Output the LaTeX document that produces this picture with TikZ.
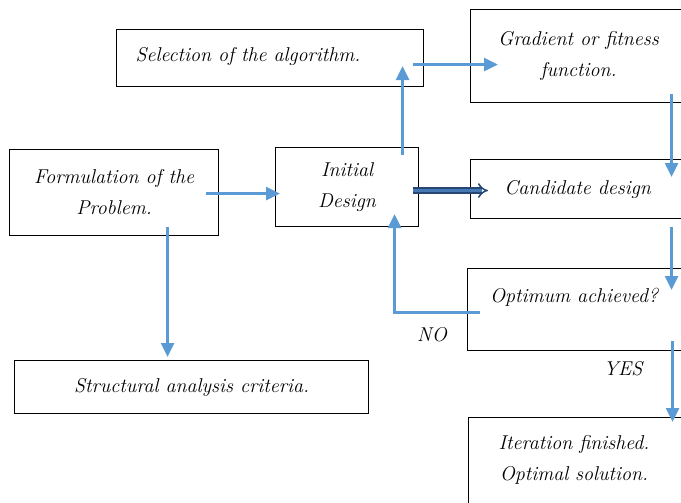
\documentclass[tikz,border=0pt]{standalone}
\usepackage{fontspec}
\usetikzlibrary{arrows.meta}
\definecolor{flowblue}{RGB}{91,155,213}
\definecolor{blockdark}{RGB}{38,70,115}
\definecolor{blockfill}{RGB}{70,120,180}
\begin{document}
\begin{tikzpicture}[
  x=1pt, y=-1pt,
  font=\fontsize{20}{31}\selectfont\itshape,
  box/.style={
    draw,
    line width=1.1pt,
    anchor=north west,
    align=center,
    inner sep=0pt
  },
  flow arrow/.style={
    draw=flowblue,
    line width=2.6pt,
    -{Triangle[length=14pt,width=13pt]}
  },
  block arrow/.style={
    draw=blockdark,
    double=blockfill,
    double distance=3.5pt,
    line width=1.5pt,
    -{Implies[scale=1.4]}
  },
]
\useasboundingbox (0,0) rectangle (681,503);
\clip (0,0) rectangle (681,503);

\node[box, minimum width=307pt, minimum height=57pt] (select) at (116,29) {};
\node (selecttext) at (248,57) {Selection of the algorithm.};
\node[box, minimum width=216pt, minimum height=93pt] (grad) at (470,9)
  {Gradient or fitness\\function.};
\node[box, minimum width=209pt, minimum height=86pt] (form) at (9,149)
  {Formulation of the\\Problem.};
\node[box, minimum width=143pt, minimum height=79pt] (init) at (275,147)
  {Initial\\Design};
\node[box, minimum width=214pt, minimum height=59pt] (cand) at (470,159)
  {Candidate design};
\node[box, minimum width=230pt, minimum height=82pt] (opt) at (467,268) {};
\node (opttext) at (574,297) {Optimum achieved?};
\node[box, minimum width=354pt, minimum height=53pt] (struct) at (14,360)
  {Structural analysis criteria.};
\node[box, minimum width=216pt, minimum height=110pt] (iter) at (468,417) {};
\node[align=center] (itertext) at (574,460) {Iteration finished.\\Optimal solution.};
\node (no) at (432,335) {NO};
\node (yes) at (623,369) {YES};

\draw[flow arrow] ([xshift=-13pt,yshift=-1pt]form.east)
  -- ([xshift=5pt,yshift=-6.5pt]init.west);
\draw[flow arrow] ([xshift=53.5pt,yshift=9pt]form.south)
  -- ([xshift=-24pt,yshift=3pt]struct.north);
\draw[flow arrow] ([xshift=55.5pt,yshift=-8pt]init.north)
  -- ([xshift=132.5pt,yshift=21pt]select.south);
\draw[flow arrow] ([xshift=-11pt,yshift=-6.5pt]select.east)
  -- ([xshift=28pt,yshift=-8.5pt]grad.west);
\draw[flow arrow] ([xshift=93pt,yshift=9pt]grad.south)
  -- ([xshift=94pt,yshift=-18pt]cand.north);
\draw[flow arrow] ([xshift=94pt,yshift=-8pt]cand.south)
  -- ([xshift=89pt,yshift=-22pt]opt.north);
\draw[flow arrow] ([xshift=90pt,yshift=10pt]opt.south)
  -- ([xshift=96pt,yshift=-5pt]iter.north);
\draw[flow arrow] ([xshift=13pt,yshift=-3pt]opt.west)
  -| ([xshift=47.5pt,yshift=13pt]init.south);
\draw[block arrow] ([xshift=-6pt,yshift=-3.5pt]init.east)
  -- ([xshift=18pt,yshift=-1.5pt]cand.west);
\end{tikzpicture}
\end{document}
